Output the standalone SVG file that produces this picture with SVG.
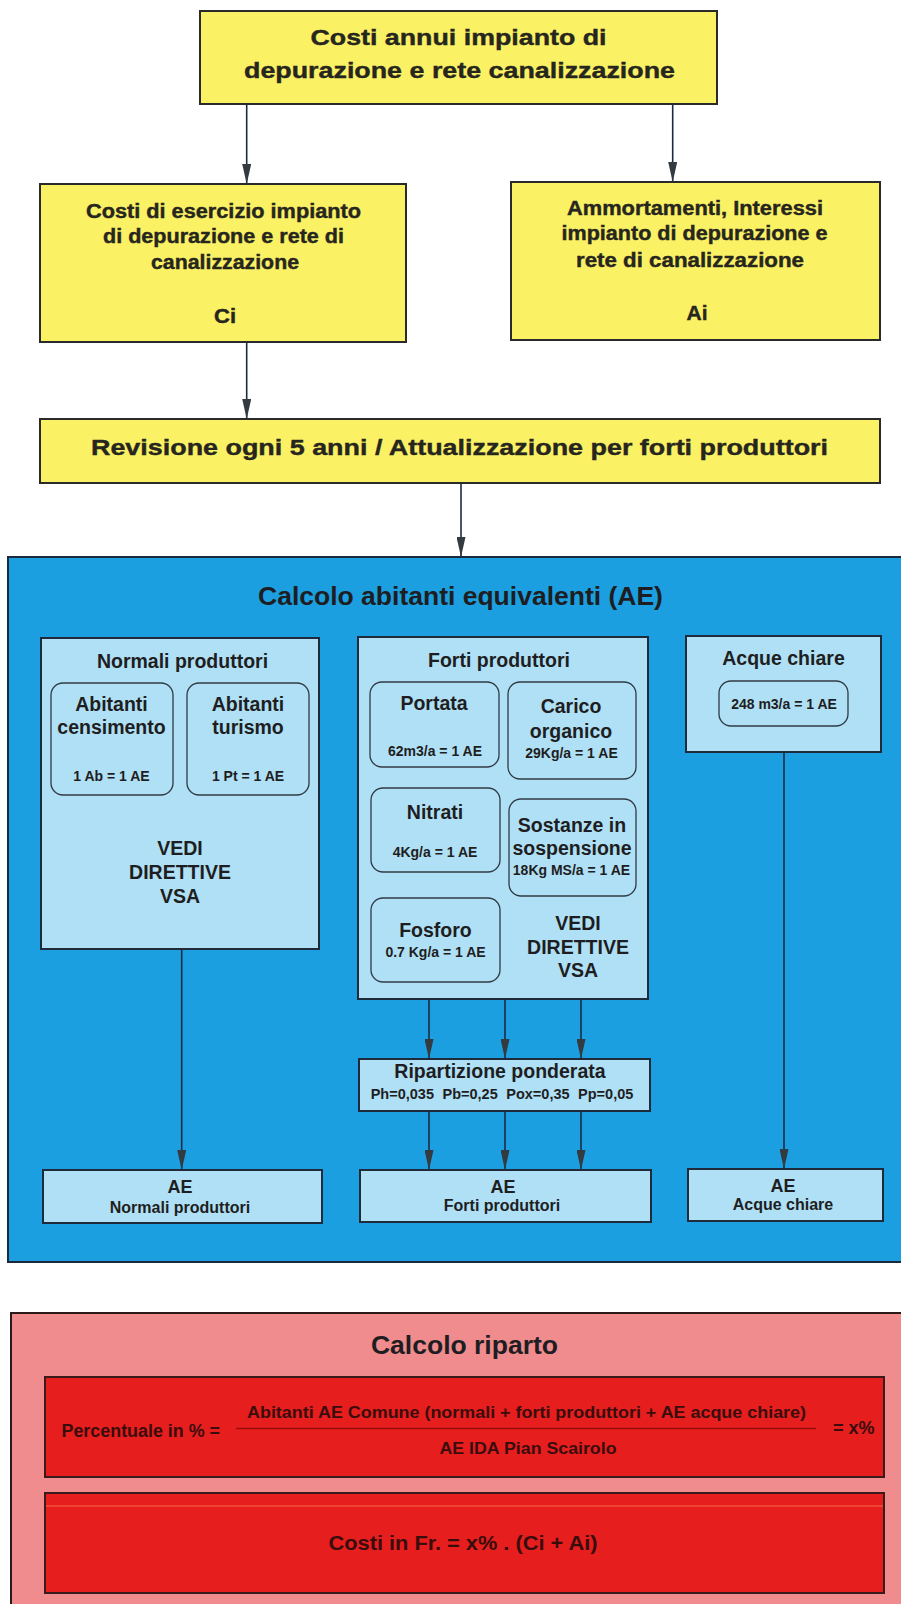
<svg xmlns="http://www.w3.org/2000/svg" width="901" height="1604" viewBox="0 0 901 1604">
<style>
text{font-family:"Liberation Sans",Arial,sans-serif;font-weight:bold;fill:#1e1e22;text-anchor:middle}
.yt{fill:#26261e;stroke:#26261e;stroke-width:0.4}
.y{fill:#fbf164;stroke:#2a2a2a;stroke-width:2}
.lb{fill:#b0e0f5;stroke:#1f2a3a;stroke-width:2}
.rr{fill:#b0e0f5;stroke:#2f3a44;stroke-width:1.3}
.t19{font-size:19.5px}
.t14{font-size:14px}
.t16{font-size:16px}
.t18{font-size:18px}
.red{fill:#e61e1e;stroke:#3a1a1a;stroke-width:2}
.rt{fill:#3a0d0d}
.cn{stroke:#1d2a44;stroke-width:1.6;fill:none}
</style>
<defs>
<marker id="ah" markerWidth="20" markerHeight="9" refX="20" refY="4.5" orient="auto" markerUnits="userSpaceOnUse">
<path d="M0,0 L20,4.5 L0,9 Z" fill="#333a40"/>
</marker>
</defs>
<rect x="0" y="0" width="901" height="1604" fill="#ffffff"/>

<g id="top">
<rect class="y" x="200" y="11" width="517" height="93"/>
<text class="yt" x="458.5" y="45" font-size="22.5" textLength="296" lengthAdjust="spacingAndGlyphs">Costi annui impianto di</text>
<text class="yt" x="459.5" y="78" font-size="22.5" textLength="431" lengthAdjust="spacingAndGlyphs">depurazione e rete canalizzazione</text>
</g>

<g id="ci">
<rect class="y" x="40" y="184" width="366" height="158"/>
<text class="yt" x="223.5" y="218" font-size="19.5" textLength="275" lengthAdjust="spacingAndGlyphs">Costi di esercizio impianto</text>
<text class="yt" x="223.5" y="243" font-size="19.5" textLength="241" lengthAdjust="spacingAndGlyphs">di depurazione e rete di</text>
<text class="yt" x="225" y="269" font-size="19.5" textLength="148" lengthAdjust="spacingAndGlyphs">canalizzazione</text>
<text class="yt" x="225" y="323" font-size="19.5" textLength="22" lengthAdjust="spacingAndGlyphs">Ci</text>
</g>

<g id="ai">
<rect class="y" x="511" y="182" width="369" height="158"/>
<text class="yt" x="695" y="215" font-size="19.5" textLength="256" lengthAdjust="spacingAndGlyphs">Ammortamenti, Interessi</text>
<text class="yt" x="694.5" y="240" font-size="19.5" textLength="266" lengthAdjust="spacingAndGlyphs">impianto di depurazione e</text>
<text class="yt" x="690" y="266.5" font-size="19.5" textLength="228" lengthAdjust="spacingAndGlyphs">rete di canalizzazione</text>
<text class="yt" x="697" y="320" font-size="19.5" textLength="21" lengthAdjust="spacingAndGlyphs">Ai</text>
</g>

<g id="revisione">
<rect class="y" x="40" y="419" width="840" height="64"/>
<text class="yt" x="459.5" y="455" font-size="22.5" textLength="737" lengthAdjust="spacingAndGlyphs">Revisione ogni 5 anni / Attualizzazione per forti produttori</text>
</g>

<g id="calcolo-ae">
<rect x="8" y="557" width="899" height="705" fill="#1b9fe0" stroke="#1a2a3a" stroke-width="2"/>
<text x="460.5" y="605" font-size="26.5">Calcolo abitanti equivalenti (AE)</text>
</g>

<g id="normali">
<rect class="lb" x="41" y="638" width="278" height="311"/>
<text class="t19" x="182.5" y="667.5">Normali produttori</text>
<text class="t19" x="180" y="855">VEDI</text>
<text class="t19" x="180" y="879">DIRETTIVE</text>
<text class="t19" x="180" y="903">VSA</text>
</g>
<g id="abitanti-censimento">
<rect class="rr" x="51" y="683" width="122" height="112" rx="12"/>
<text class="t19" x="111.5" y="710.5">Abitanti</text>
<text class="t19" x="111.5" y="734">censimento</text>
<text class="t14" x="111.5" y="780.5">1 Ab = 1 AE</text>
</g>
<g id="abitanti-turismo">
<rect class="rr" x="187" y="683" width="122" height="112" rx="12"/>
<text class="t19" x="248" y="710.5">Abitanti</text>
<text class="t19" x="248" y="734">turismo</text>
<text class="t14" x="248" y="780.5">1 Pt = 1 AE</text>
</g>

<g id="forti">
<rect class="lb" x="358" y="637" width="290" height="362"/>
<text class="t19" x="499" y="667">Forti produttori</text>
<text class="t19" x="578" y="930">VEDI</text>
<text class="t19" x="578" y="953.5">DIRETTIVE</text>
<text class="t19" x="578" y="977">VSA</text>
</g>
<g id="portata">
<rect class="rr" x="370" y="682" width="129" height="85" rx="12"/>
<text class="t19" x="434" y="710">Portata</text>
<text class="t14" x="435" y="756">62m3/a = 1 AE</text>
</g>
<g id="carico">
<rect class="rr" x="508" y="682" width="128" height="97" rx="12"/>
<text class="t19" x="571" y="713">Carico</text>
<text class="t19" x="571" y="737.5">organico</text>
<text class="t14" x="571.5" y="758">29Kg/a = 1 AE</text>
</g>
<g id="nitrati">
<rect class="rr" x="371" y="788" width="129" height="84" rx="12"/>
<text class="t19" x="435" y="819">Nitrati</text>
<text class="t14" x="435" y="856.5">4Kg/a = 1 AE</text>
</g>
<g id="sostanze">
<rect class="rr" x="509" y="799" width="127" height="97" rx="12"/>
<text class="t19" x="572" y="831.5">Sostanze in</text>
<text class="t19" x="572" y="855">sospensione</text>
<text class="t14" x="571.5" y="875">18Kg MS/a = 1 AE</text>
</g>
<g id="fosforo">
<rect class="rr" x="371" y="898" width="129" height="84" rx="12"/>
<text class="t19" x="435.5" y="936.5">Fosforo</text>
<text class="t14" x="435.5" y="957">0.7 Kg/a = 1 AE</text>
</g>

<g id="acque">
<rect class="lb" x="686" y="636" width="195" height="116"/>
<text class="t19" x="783.5" y="665">Acque chiare</text>
<rect class="rr" x="719" y="681" width="129" height="45" rx="12"/>
<text class="t14" x="784" y="709">248 m3/a = 1 AE</text>
</g>

<g id="ripartizione">
<rect class="lb" x="359" y="1059" width="291" height="52"/>
<text class="t19" x="500" y="1078">Ripartizione ponderata</text>
<text x="502" y="1099" font-size="14.5" word-spacing="4.5">Ph=0,035 Pb=0,25 Pox=0,35 Pp=0,05</text>
</g>

<g id="ae-normali">
<rect class="lb" x="43" y="1170" width="279" height="53"/>
<text class="t18" x="180" y="1193">AE</text>
<text class="t16" x="180" y="1213">Normali produttori</text>
</g>
<g id="ae-forti">
<rect class="lb" x="360" y="1170" width="291" height="52"/>
<text class="t18" x="503" y="1192.5">AE</text>
<text class="t16" x="502" y="1211">Forti produttori</text>
</g>
<g id="ae-acque">
<rect class="lb" x="688" y="1169" width="195" height="52"/>
<text class="t18" x="783" y="1192">AE</text>
<text class="t16" x="783" y="1210">Acque chiare</text>
</g>

<g id="calcolo-riparto">
<rect x="11" y="1313" width="895" height="300" fill="#f08b8e" stroke="#2a1a1a" stroke-width="2"/>
<text x="464.5" y="1354" font-size="26.5">Calcolo riparto</text>
</g>
<g id="percentuale">
<rect class="red" x="45" y="1377" width="839" height="100"/>
<text class="rt" x="61.5" y="1436.5" font-size="18" style="text-anchor:start" textLength="158.5" lengthAdjust="spacingAndGlyphs">Percentuale in % =</text>
<text class="rt" x="526.5" y="1418" font-size="17" textLength="559" lengthAdjust="spacingAndGlyphs">Abitanti AE Comune (normali + forti produttori + AE acque chiare)</text>
<line x1="236" y1="1428.5" x2="816" y2="1428.5" stroke="#9a0b0b" stroke-width="1.5"/>
<text class="rt" x="528" y="1453.5" font-size="17" textLength="177" lengthAdjust="spacingAndGlyphs">AE IDA Pian Scairolo</text>
<text class="rt" x="833" y="1434" font-size="18" style="text-anchor:start">= x%</text>
</g>
<g id="costi">
<rect class="red" x="45" y="1493" width="839" height="100"/>
<line x1="46" y1="1506" x2="883" y2="1506" stroke="#ff9a5a" stroke-width="1" opacity="0.6"/>
<text class="rt" x="463" y="1550" font-size="20" textLength="269" lengthAdjust="spacingAndGlyphs">Costi in Fr. = x% . (Ci + Ai)</text>
</g>

<g id="connectors">
<line class="cn" x1="246.7" y1="104" x2="246.7" y2="184" marker-end="url(#ah)"/>
<line class="cn" x1="672.7" y1="104" x2="672.7" y2="182" marker-end="url(#ah)"/>
<line class="cn" x1="246.7" y1="342" x2="246.7" y2="419" marker-end="url(#ah)"/>
<line class="cn" x1="461" y1="483" x2="461" y2="557" marker-end="url(#ah)"/>
<line class="cn" x1="181.7" y1="949" x2="181.7" y2="1170" marker-end="url(#ah)"/>
<line class="cn" x1="429" y1="999" x2="429" y2="1059" marker-end="url(#ah)"/>
<line class="cn" x1="505" y1="999" x2="505" y2="1059" marker-end="url(#ah)"/>
<line class="cn" x1="581" y1="999" x2="581" y2="1059" marker-end="url(#ah)"/>
<line class="cn" x1="429" y1="1111" x2="429" y2="1170" marker-end="url(#ah)"/>
<line class="cn" x1="505" y1="1111" x2="505" y2="1170" marker-end="url(#ah)"/>
<line class="cn" x1="581" y1="1111" x2="581" y2="1170" marker-end="url(#ah)"/>
<line class="cn" x1="784" y1="752" x2="784" y2="1169" marker-end="url(#ah)"/>
</g>
</svg>
